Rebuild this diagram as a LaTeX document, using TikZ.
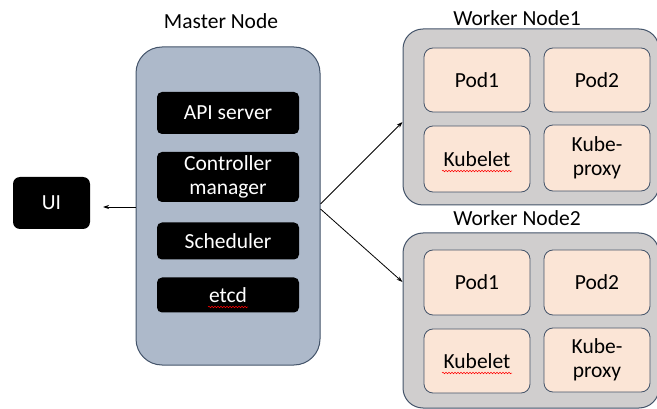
\documentclass[tikz,border=0pt]{standalone}
\usepackage{fontspec}
\setmainfont{Carlito}
\usetikzlibrary{arrows.meta,decorations.pathmorphing}
\definecolor{masterfill}{HTML}{ADB9CA}
\definecolor{edgeblue}{HTML}{44546A}
\definecolor{workerfill}{HTML}{D0CECE}
\definecolor{podfill}{HTML}{FBE5D6}
\tikzset{
  masterbox/.style={draw=edgeblue, fill=masterfill, line width=1pt, rounded corners=26pt},
  workerbox/.style={draw=edgeblue, fill=workerfill, line width=1pt, rounded corners=20pt},
  podbox/.style={draw=edgeblue, fill=podfill, line width=0.8pt, rounded corners=9pt, inner sep=0pt, align=center, font=\fontsize{21.5}{24}\selectfont},
  blackbox/.style={fill=black, rounded corners=5pt, inner sep=0pt, text=white, align=center, font=\fontsize{21.5}{24}\selectfont},
  title/.style={font=\fontsize{21.5}{24}\selectfont},
  twoline/.style={font=\fontsize{21.5}{24}\selectfont},
  conn/.style={-{Stealth[length=6pt,width=4pt]}, line width=0.8pt},
  squiggle/.style={red, line width=0.5pt, decorate, decoration={snake, amplitude=0.8pt, segment length=3pt}}
}
\begin{document}
\begin{tikzpicture}[x=1pt,y=-1pt]
\useasboundingbox (0,0) rectangle (657,409);
% Master node
\node[masterbox, minimum width=184pt, minimum height=318pt] (master) at (228,206) {};
\node[title] (mastertitle) at (221,21) {Master Node};
\node[blackbox, minimum width=142pt, minimum height=42pt] (api) at (228,113) {API server};
\node[blackbox, twoline, minimum width=142pt, minimum height=50pt] (ctrl) at (228,177) {Controller\\manager};
\node[blackbox, minimum width=142pt, minimum height=37pt] (sched) at (228,241) {Scheduler};
\node[blackbox, minimum width=142pt, minimum height=35pt] (etcd) at (228,295) {etcd};
\draw[squiggle] ([xshift=-20pt,yshift=-12pt]etcd.center) -- ([xshift=20pt,yshift=-12pt]etcd.center);
% UI
\node[blackbox, rounded corners=7pt, minimum width=77pt, minimum height=52pt] (ui) at (51.5,203) {UI};
% Worker 1
\node[workerbox, minimum width=256pt, minimum height=176pt] (w1) at (531,117) {};
\node[title] (w1title) at (517,18) {Worker Node1};
\node[podbox, minimum width=106pt, minimum height=64pt] (w1p1) at (477,80) {Pod1};
\node[podbox, minimum width=106pt, minimum height=64pt] (w1p2) at (597,80) {Pod2};
\node[podbox, minimum width=106pt, minimum height=66pt] (w1kl) at (477,159) {Kubelet};
\node[podbox, twoline, minimum width=106pt, minimum height=66pt] (w1kp) at (597,158) {Kube-\\proxy};
\draw[squiggle] ([xshift=-35pt,yshift=-12pt]w1kl.center) -- ([xshift=35pt,yshift=-12pt]w1kl.center);
% Worker 2
\node[workerbox, minimum width=256pt, minimum height=175pt] (w2) at (531,320.5) {};
\node[title] (w2title) at (517,218) {Worker Node2};
\node[podbox, minimum width=106pt, minimum height=65pt] (w2p1) at (477,282.5) {Pod1};
\node[podbox, minimum width=106pt, minimum height=65pt] (w2p2) at (597,282.5) {Pod2};
\node[podbox, minimum width=106pt, minimum height=64pt] (w2kl) at (477,361) {Kubelet};
\node[podbox, twoline, minimum width=106pt, minimum height=64pt] (w2kp) at (597,360) {Kube-\\proxy};
\draw[squiggle] ([xshift=-35pt,yshift=-12pt]w2kl.center) -- ([xshift=35pt,yshift=-12pt]w2kl.center);
% Connectors
\coordinate (uiend) at (103,207);
\draw[conn] (master.west |- uiend) -- (uiend);
\draw[conn] ([yshift=2pt]master.east) -- (w1.west |- 0,122);
\draw[conn] ([yshift=-3pt]master.east) -- (w2.west |- 0,282);
\end{tikzpicture}
\end{document}
